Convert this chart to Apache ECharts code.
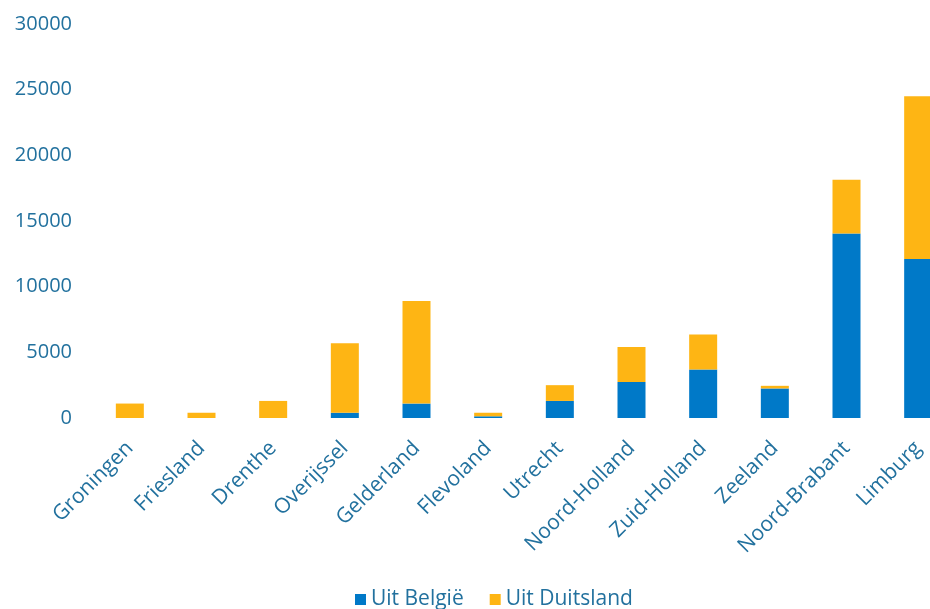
<!DOCTYPE html>
<html>
<head>
<meta charset="utf-8">
<script src="https://cdn.jsdelivr.net/npm/echarts@6/dist/echarts.min.js"></script>
<style>html,body{margin:0;padding:0;background:#fff;overflow:hidden;width:930px;height:609px}#c{width:954px;height:609px}</style>
</head>
<body>
<div id="c"></div>
<script>
const categories = ['Groningen','Friesland','Drenthe','Overijssel','Gelderland','Flevoland','Utrecht','Noord-Holland','Zuid-Holland','Zeeland','Noord-Brabant','Limburg'];
const uitBelgie = [0, 0, 0, 400, 1100, 130, 1300, 2750, 3700, 2250, 14050, 12100];
const uitDuitsland = [1100, 400, 1300, 5300, 7800, 270, 1200, 2650, 2650, 200, 4100, 12400];
const yTicks = [0, 5000, 10000, 15000, 20000, 25000, 30000];

const textColor = '#22719E';
const font = 'Open Sans';
const chart = echarts.init(document.getElementById('c'));
chart.setOption({
  animation: false,
  grid: { left: 94, right: 0, top: 24, bottom: 191, containLabel: false },
  legend: {
    left: 350, top: 584, itemWidth: 11, itemHeight: 11, itemGap: 26,
    icon: 'rect',
    textStyle: { color: textColor, fontFamily: font, fontSize: 21 },
    data: ['Uit België', 'Uit Duitsland']
  },
  xAxis: {
    type: 'category', data: categories,
    axisLine: { show: false }, axisTick: { show: false },
    axisLabel: { rotate: 45, margin: 27, color: textColor, fontFamily: font, fontSize: 21, interval: 0 }
  },
  yAxis: {
    type: 'value', min: yTicks[0], max: yTicks[yTicks.length - 1], interval: 5000,
    axisLine: { show: false }, axisTick: { show: false }, splitLine: { show: false },
    axisLabel: { margin: 22, color: textColor, fontFamily: font, fontSize: 20, formatter: v => String(v) }
  },
  series: [
    { name: 'Uit België', type: 'bar', stack: 'a', data: uitBelgie, barWidth: 28, itemStyle: { color: '#0079C8' } },
    { name: 'Uit Duitsland', type: 'bar', stack: 'a', data: uitDuitsland, barWidth: 28, itemStyle: { color: '#FEB514' } }
  ]
});
</script>
</body>
</html>
